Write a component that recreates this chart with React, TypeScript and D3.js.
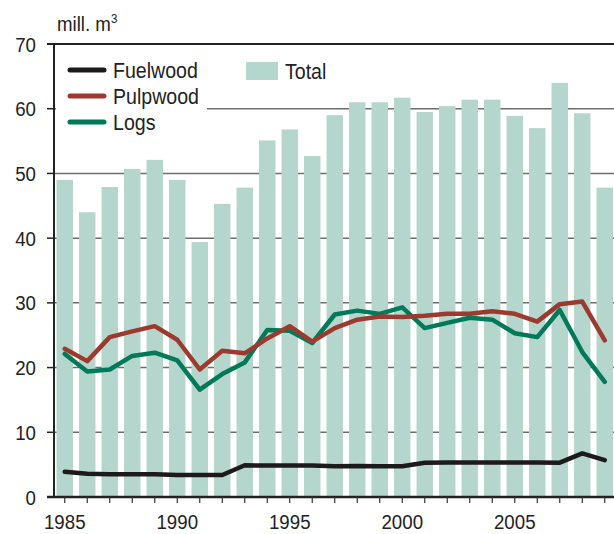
import React from "react";
import * as d3 from "d3";

const years = [1985, 1986, 1987, 1988, 1989, 1990, 1991, 1992, 1993, 1994, 1995, 1996, 1997, 1998, 1999, 2000, 2001, 2002, 2003, 2004, 2005, 2006, 2007, 2008, 2009];
const total = [49.0, 44.0, 47.9, 50.7, 52.1, 49.0, 39.4, 45.3, 47.8, 55.1, 56.8, 52.7, 59.0, 61.0, 61.0, 61.7, 59.5, 60.4, 61.4, 61.4, 58.9, 57.0, 64.0, 59.3, 47.8];
const pulpwood = [22.9, 21.0, 24.7, 25.6, 26.4, 24.3, 19.7, 22.6, 22.2, 24.5, 26.4, 24.0, 26.1, 27.4, 27.9, 27.8, 28.0, 28.3, 28.3, 28.7, 28.3, 27.1, 29.8, 30.2, 24.2];
const logs = [22.1, 19.4, 19.7, 21.8, 22.3, 21.1, 16.6, 19.0, 20.8, 25.8, 25.7, 23.8, 28.2, 28.8, 28.3, 29.3, 26.1, 26.9, 27.7, 27.4, 25.3, 24.7, 28.9, 22.4, 17.8];
const fuelwood = [3.9, 3.6, 3.5, 3.5, 3.5, 3.4, 3.4, 3.4, 4.9, 4.85, 4.85, 4.85, 4.75, 4.8, 4.75, 4.75, 5.3, 5.35, 5.35, 5.35, 5.35, 5.35, 5.3, 6.75, 5.7];
const yTicks = [0, 10, 20, 30, 40, 50, 60, 70];
const xLabels = [1985, 1990, 1995, 2000, 2005];

const FONT = "'Liberation Sans', Arial, sans-serif";
const BAR = "#b5d6cc";
const RED = "#9c3a30";
const GREEN = "#007a58";
const BLACK = "#1c1a1a";
const SX = 0.89;

function T(props: { x: number; y: number; size: number; anchor?: string; children: React.ReactNode }) {
  const { x, y, size, anchor, children } = props;
  return (
    <text transform={`translate(${x},${y}) scale(${SX},1)`} fontSize={size} textAnchor={anchor || "start"} fill="#222">
      {children}
    </text>
  );
}

export default function App() {
  const W = 614, H = 534;
  const x = d3.scaleBand<number>().domain(years).range([53.5, 616]).paddingInner(0.27).paddingOuter(0.135);
  const y = d3.scaleLinear().domain([0, 70]).range([497, 44]);
  const cx = (yr: number) => (x(yr) as number) + x.bandwidth() / 2;
  const line = (vals: number[]) =>
    d3.line<number>().x((_, i) => cx(years[i])).y((v) => y(v))(vals) as string;

  const series = [
    { name: "Fuelwood", vals: fuelwood, color: BLACK },
    { name: "Pulpwood", vals: pulpwood, color: RED },
    { name: "Logs", vals: logs, color: GREEN },
  ];

  return (
    <svg width={W} height={H} style={{ position: "absolute", left: 0, top: 0, background: "#fff" }} fontFamily={FONT}>
      {/* gridlines */}
      {yTicks.filter((t) => t > 0 && t < 70).map((t) => (
        <line key={t} x1={54} x2={W} y1={y(t)} y2={y(t)} stroke="#6e6e6e" strokeWidth={1.5} />
      ))}
      {/* bars */}
      {years.map((yr, i) => (
        <rect key={yr} x={x(yr)} y={y(total[i])} width={x.bandwidth()} height={y(0) - y(total[i])} fill={BAR} />
      ))}
      {/* legend background */}
      <rect x={56} y={52} width={151} height={82} fill="#fff" />
      {/* series lines */}
      {series.slice().reverse().map((s) => (
        <path key={s.name} d={line(s.vals)} fill="none" stroke={s.color} strokeWidth={4.5} strokeLinejoin="round" strokeLinecap="round" />
      ))}
      {/* top frame line */}
      <line x1={47} x2={W} y1={y(70)} y2={y(70)} stroke="#222" strokeWidth={2} />
      {/* y axis */}
      <line x1={54} x2={54} y1={y(70) - 1} y2={y(0) + 1} stroke="#222" strokeWidth={2} />
      {yTicks.map((t) => (
        <g key={t}>
          <line x1={47} x2={54} y1={y(t)} y2={y(t)} stroke="#222" strokeWidth={1.5} />
          <T x={36} y={y(t) + 7.5} size={21} anchor="end">{t}</T>
        </g>
      ))}
      {/* x axis */}
      <line x1={47} x2={W} y1={y(0)} y2={y(0)} stroke="#222" strokeWidth={2.5} />
      {years.map((yr) => (
        <line key={yr} x1={cx(yr)} x2={cx(yr)} y1={y(0)} y2={y(0) + 6} stroke="#333" strokeWidth={1.2} />
      ))}
      {xLabels.map((yr) => (
        <T key={yr} x={cx(yr)} y={529} size={21} anchor="middle">{yr}</T>
      ))}
      {/* unit label */}
      <T x={57} y={31} size={21}>
        mill. m<tspan fontSize={13} dy={-8}>3</tspan>
      </T>
      {/* legend */}
      {series.map((s, i) => (
        <g key={s.name}>
          <line x1={70} x2={104} y1={70 + i * 26} y2={70 + i * 26} stroke={s.color} strokeWidth={5} strokeLinecap="round" />
          <T x={113} y={78 + i * 26} size={22}>{s.name}</T>
        </g>
      ))}
      <rect x={246} y={62} width={32} height={18} fill={BAR} />
      <T x={285} y={79} size={22}>Total</T>
    </svg>
  );
}
